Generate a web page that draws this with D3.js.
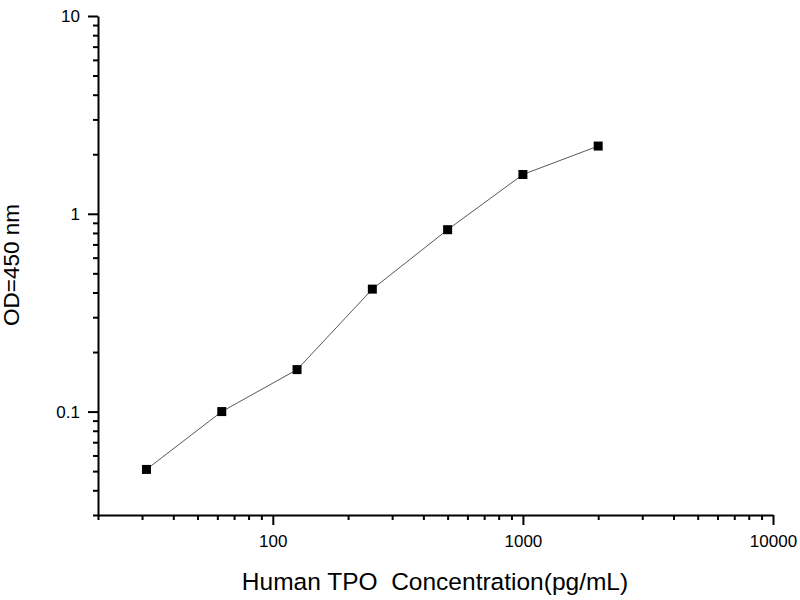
<!DOCTYPE html>
<html>
<head>
<meta charset="utf-8">
<script src="https://cdn.jsdelivr.net/npm/d3@7"></script>
<style>
  body { margin: 0; background: #fff; }
  text { font-family: Arial, "Liberation Sans", sans-serif; fill: #000; }
</style>
</head>
<body>
<svg id="chart" width="800" height="600"></svg>
<script>
// standard curve: concentration (pg/mL) vs OD at 450 nm
var concentrations = [31.25, 62.5, 125, 250, 500, 1000, 2000];
var odValues = [0.051, 0.100, 0.163, 0.416, 0.831, 1.58, 2.20];

var xMajorTicks = [100, 1000, 10000];
var xMinorTicks = [20, 30, 40, 50, 60, 70, 80, 90, 200, 300, 400, 500, 600, 700, 800, 900,
                   2000, 3000, 4000, 5000, 6000, 7000, 8000, 9000];
var yMajorTicks = [0.1, 1, 10];
var yMinorTicks = [0.03, 0.04, 0.05, 0.06, 0.07, 0.08, 0.09, 0.2, 0.3, 0.4, 0.5, 0.6, 0.7, 0.8, 0.9,
                   2, 3, 4, 5, 6, 7, 8, 9];

var xTitle = "Human TPO\u00a0\u00a0Concentration(pg/mL)";
var yTitle = "OD=450 nm";

var svg = d3.select("#chart"),
    plotLeft = 98, plotRight = 773, plotTop = 16, plotBottom = 515;

var x = d3.scaleLog().domain([20, 10000]).range([plotLeft, plotRight]);
var y = d3.scaleLog().domain([0.03, 10]).range([plotBottom, plotTop]);

// minor ticks first, then majors with labels
svg.append("g")
    .attr("transform", "translate(0," + plotBottom + ")")
    .call(d3.axisBottom(x).tickValues(xMinorTicks).tickSize(5).tickFormat(""))
    .call(function(g) { g.select(".domain").remove(); });

svg.append("g")
    .attr("transform", "translate(" + plotLeft + ",0)")
    .call(d3.axisLeft(y).tickValues(yMinorTicks).tickSize(5).tickFormat(""))
    .call(function(g) { g.select(".domain").remove(); });

svg.append("g")
    .attr("transform", "translate(0," + plotBottom + ")")
    .call(d3.axisBottom(x).tickValues(xMajorTicks).tickSize(10).tickSizeOuter(0)
      .tickPadding(10).tickFormat(d3.format("d")));

svg.append("g")
    .attr("transform", "translate(" + plotLeft + ",0)")
    .call(d3.axisLeft(y).tickValues(yMajorTicks).tickSize(10).tickSizeOuter(0)
      .tickPadding(8).tickFormat(function(d) { return d < 1 ? String(d) : d3.format("d")(d); }));

svg.selectAll(".tick line, .domain")
    .attr("stroke", "#000")
    .attr("stroke-width", 2);

svg.selectAll(".tick text")
    .attr("font-size", 17)
    .attr("font-family", "Arial, 'Liberation Sans', sans-serif");

// connecting line
var line = d3.line()
    .x(function(d, i) { return x(concentrations[i]); })
    .y(function(d) { return y(d); });

svg.append("path")
    .datum(odValues)
    .attr("d", line)
    .attr("fill", "none")
    .attr("stroke", "#444")
    .attr("stroke-width", 0.9);

// square markers
var size = 9;
svg.selectAll(".pt")
    .data(odValues)
  .enter().append("rect")
    .attr("class", "pt")
    .attr("x", function(d, i) { return x(concentrations[i]) - size / 2; })
    .attr("y", function(d) { return y(d) - size / 2; })
    .attr("width", size)
    .attr("height", size)
    .attr("fill", "#000");

// axis titles
svg.append("text")
    .attr("x", 435)
    .attr("y", 590)
    .attr("text-anchor", "middle")
    .attr("font-size", 24.5)
    .text(xTitle);

svg.append("text")
    .attr("transform", "translate(19,265) rotate(-90)")
    .attr("text-anchor", "middle")
    .attr("font-size", 22.5)
    .text(yTitle);
</script>
</body>
</html>
